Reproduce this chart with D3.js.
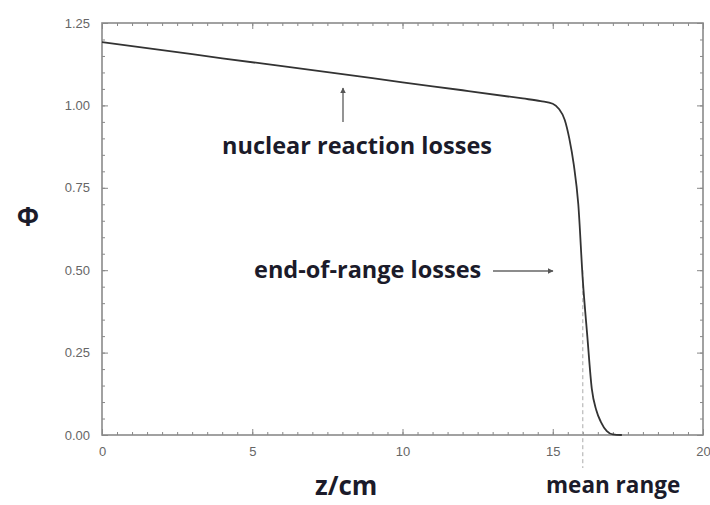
<!DOCTYPE html>
<html>
<head>
<meta charset="utf-8">
<title>phi vs depth</title>
<script src="https://d3js.org/d3.v7.min.js"></script>
<style>
  body { margin: 0; background: #fff; }
  .tick text { fill: #666; font-family: "Liberation Sans", Arial, sans-serif; font-size: 13px; }
  .ann { font-family: "Open Sans", Lato, sans-serif; font-weight: bold; fill: #1b1b2a; }
</style>
</head>
<body>
<svg id="chart" width="710" height="505"></svg>
<script>
// curve
var depth = [0, 2, 4, 6, 8, 10, 12, 14, 14.6, 15.0, 15.2, 15.4, 15.55, 15.7, 15.85, 16.0, 16.15, 16.3, 16.45, 16.6, 16.8, 17.0, 17.3];
var phi = [1.192, 1.168, 1.143, 1.119, 1.095, 1.070, 1.046, 1.021, 1.013, 1.005, 0.99, 0.956, 0.90, 0.82, 0.70, 0.47, 0.30, 0.14, 0.075, 0.04, 0.012, 0.002, 0];

var xTicks = [0, 5, 10, 15, 20];
var yTicks = [0, 0.25, 0.5, 0.75, 1.0, 1.25];
var meanRange = 16.0;

var svg = d3.select("#chart");
// plot box in pixels ("top" is taken by window.top, so use other names)
var padL = 102, padR = 703, padT = 23, padB = 435;

var x = d3.scaleLinear().domain([0, 20]).range([padL, padR]);
var y = d3.scaleLinear().domain([0, 1.25]).range([padB, padT]);

var xMinor = d3.range(0, 20.01, 0.5);
var yMinor = d3.range(0, 1.2501, 0.05);

function styleAxis(g) {
    g.select(".domain").remove();
    g.selectAll(".tick line").attr("stroke", "#888").attr("stroke-width", 1);
}

// minor ticks, pointing inward on all four sides
svg.append("g").attr("transform", "translate(0," + padB + ")")
    .call(d3.axisBottom(x).tickValues(xMinor).tickSize(-3).tickFormat("")).call(styleAxis);
svg.append("g").attr("transform", "translate(0," + padT + ")")
    .call(d3.axisTop(x).tickValues(xMinor).tickSize(-3).tickFormat("")).call(styleAxis);
svg.append("g").attr("transform", "translate(" + padL + ",0)")
    .call(d3.axisLeft(y).tickValues(yMinor).tickSize(-3).tickFormat("")).call(styleAxis);
svg.append("g").attr("transform", "translate(" + padR + ",0)")
    .call(d3.axisRight(y).tickValues(yMinor).tickSize(-3).tickFormat("")).call(styleAxis);

// major ticks with labels
svg.append("g").attr("transform", "translate(0," + padB + ")")
    .call(d3.axisBottom(x).tickValues(xTicks).tickSize(-6).tickPadding(12).tickFormat(d3.format("d")))
    .call(styleAxis);
svg.append("g").attr("transform", "translate(0," + padT + ")")
    .call(d3.axisTop(x).tickValues(xTicks).tickSize(-6).tickFormat("")).call(styleAxis);
svg.append("g").attr("transform", "translate(" + padL + ",0)")
    .call(d3.axisLeft(y).tickValues(yTicks).tickSize(-6).tickPadding(12).tickFormat(d3.format(".2f")))
    .call(styleAxis);
svg.append("g").attr("transform", "translate(" + padR + ",0)")
    .call(d3.axisRight(y).tickValues(yTicks).tickSize(-6).tickFormat("")).call(styleAxis);

// frame
svg.append("rect")
    .attr("x", padL).attr("y", padT)
    .attr("width", padR - padL).attr("height", padB - padT)
    .attr("fill", "none").attr("stroke", "#8a8a8a").attr("stroke-width", 1.6);

// mean range marker
svg.append("line")
    .attr("x1", x(meanRange)).attr("x2", x(meanRange))
    .attr("y1", y(0.5)).attr("y2", padB + 33)
    .attr("stroke", "#aaa").attr("stroke-width", 1)
    .attr("stroke-dasharray", "4,3");

// the curve
var pts = depth.map(function(d, i) { return [d, phi[i]]; });
var line = d3.line()
    .x(function(d) { return x(d[0]); })
    .y(function(d) { return y(d[1]); })
    .curve(d3.curveMonotoneX);

svg.append("path")
    .datum(pts)
    .attr("d", line)
    .attr("fill", "none")
    .attr("stroke", "#333")
    .attr("stroke-width", 1.8);

// arrows
svg.append("defs").append("marker")
    .attr("id", "head").attr("viewBox", "0 0 10 10")
    .attr("refX", 9).attr("refY", 5)
    .attr("markerWidth", 4).attr("markerHeight", 4)
    .attr("orient", "auto")
    .append("path").attr("d", "M0,0 L10,5 L0,10 z").attr("fill", "#555");

svg.append("line")
    .attr("x1", 343).attr("y1", 122).attr("x2", 343).attr("y2", 88)
    .attr("stroke", "#666").attr("stroke-width", 1.4)
    .attr("marker-end", "url(#head)");
svg.append("line")
    .attr("x1", 493).attr("y1", 271).attr("x2", 553).attr("y2", 271)
    .attr("stroke", "#666").attr("stroke-width", 1.4)
    .attr("marker-end", "url(#head)");

// annotations
svg.append("text").attr("class", "ann")
    .attr("x", 222).attr("y", 154).attr("font-size", 23.5)
    .text("nuclear reaction losses");
svg.append("text").attr("class", "ann")
    .attr("x", 254).attr("y", 278).attr("font-size", 23.5)
    .text("end-of-range losses");
svg.append("text").attr("class", "ann")
    .attr("x", 546).attr("y", 493).attr("font-size", 22.5)
    .text("mean range");

// axis titles
svg.append("text").attr("class", "ann")
    .attr("x", 315).attr("y", 495).attr("font-size", 26)
    .attr("font-weight", 800)
    .text("z/cm");
svg.append("text").attr("class", "ann")
    .attr("x", 28).attr("y", 226).attr("text-anchor", "middle")
    .attr("font-size", 26)
    .text("Φ");
</script>
</body>
</html>
